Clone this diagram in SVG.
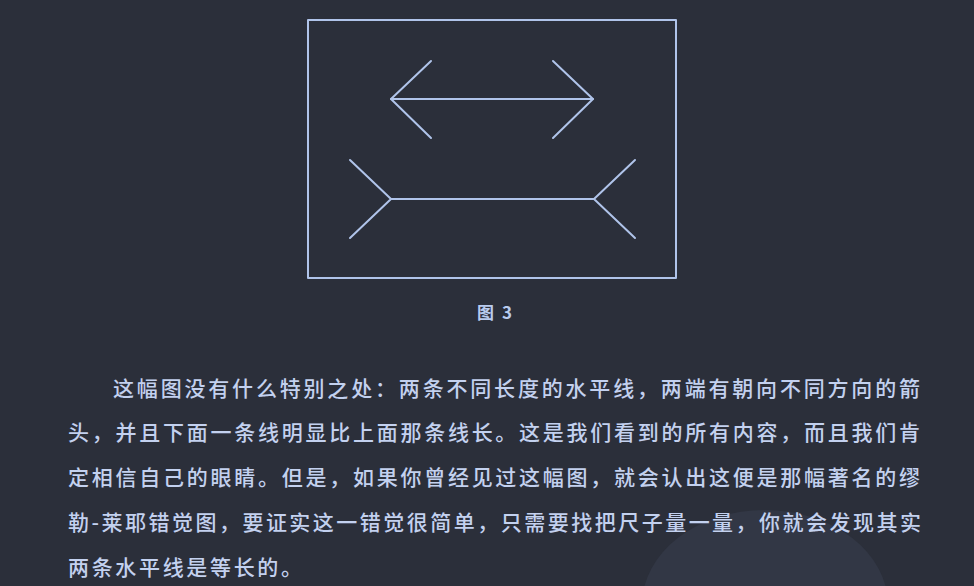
<svg xmlns="http://www.w3.org/2000/svg" width="974" height="586" viewBox="0 0 974 586">
<style>
.fig{fill:none;stroke:#b0c4ea;stroke-width:2;stroke-linecap:round;stroke-linejoin:round}
.txt{font-family:"Noto Sans CJK SC","Noto Sans CJK JP",sans-serif;font-size:21px;font-weight:500;fill:#c3d1ef}
.cap{font-family:"Noto Sans CJK SC","Liberation Sans",sans-serif;font-size:17px;font-weight:bold;fill:#b9cbee}
</style>
<rect width="974" height="586" fill="#2b2f3a"/>
<ellipse cx="765" cy="605" rx="123" ry="95" fill="#323745"/>
<g id="frame">
<rect class="fig" x="308" y="20" width="368" height="258"/>
</g>
<g id="connectors">
<g id="top-arrow">
<line class="fig" x1="391" y1="99" x2="593" y2="99"/>
<polyline class="fig" points="431,61 391,99 431,138"/>
<polyline class="fig" points="553,61 593,99 553,138"/>
</g>
<g id="bottom-arrow">
<line class="fig" x1="391" y1="199" x2="594" y2="199"/>
<polyline class="fig" points="350,160 391,199 350,238"/>
<polyline class="fig" points="635,160 594,199 635,238"/>
</g>
</g>
<g id="caption">
<text class="cap" x="477" y="319">图</text>
<text class="cap" x="502" y="319">3</text>
</g>
<g id="paragraph">
<text class="txt" x="113" y="395.5" textLength="807" lengthAdjust="spacing">这幅图没有什么特别之处：两条不同长度的水平线，两端有朝向不同方向的箭</text>
<text class="txt" x="68" y="440" textLength="852" lengthAdjust="spacing">头，并且下面一条线明显比上面那条线长。这是我们看到的所有内容，而且我们肯</text>
<text class="txt" x="68" y="485" textLength="852" lengthAdjust="spacing">定相信自己的眼睛。但是，如果你曾经见过这幅图，就会认出这便是那幅著名的缪</text>
<text class="txt" x="68" y="530" textLength="853" lengthAdjust="spacing">勒-莱耶错觉图，要证实这一错觉很简单，只需要找把尺子量一量，你就会发现其实</text>
<text class="txt" x="68" y="575" textLength="234" lengthAdjust="spacing">两条水平线是等长的。</text>
</g>
</svg>
